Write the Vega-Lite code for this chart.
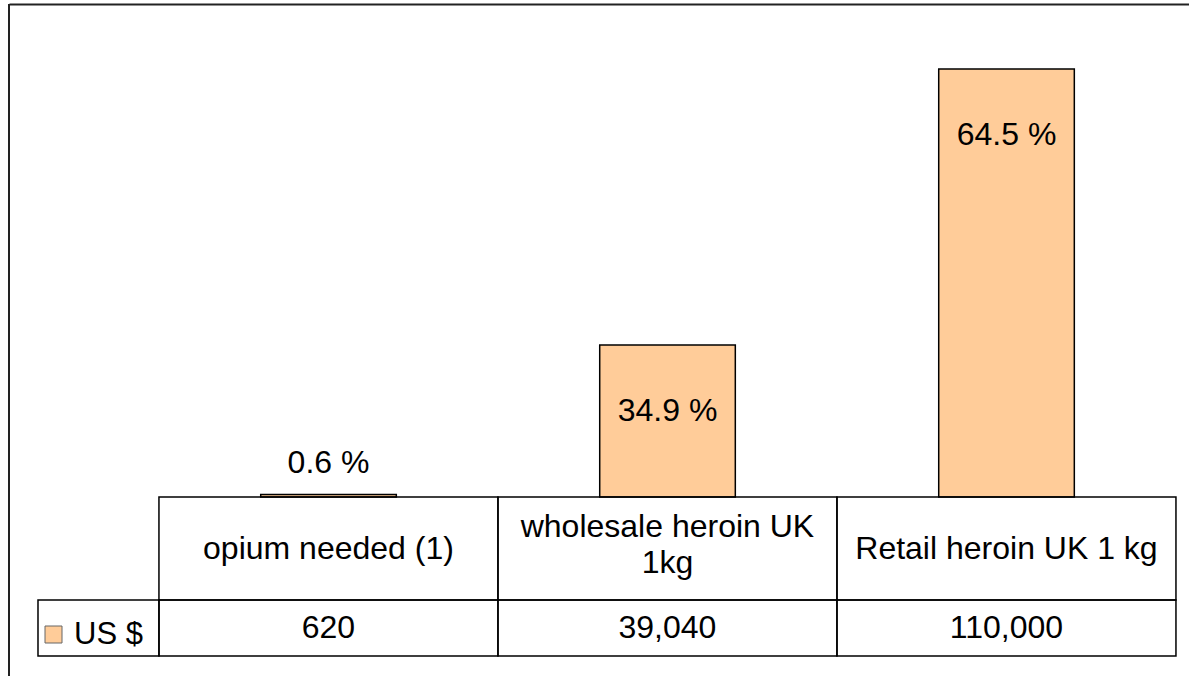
{
  "$schema": "https://vega.github.io/schema/vega-lite/v6.json",
  "padding": {"left": 8, "top": 4, "right": 0, "bottom": 0},
  "background": "white",
  "spacing": 0,
  "bounds": "flush",
  "config": {
    "view": {"stroke": null},
    "font": "Liberation Sans",
    "text": {"font": "Liberation Sans", "fontSize": 32, "color": "#000"}
  },
  "datasets": {
    "costs": [
      {"stage": "opium needed (1)", "usd": 620, "share": "0.6 %"},
      {"stage": "wholesale heroin UK\n1kg", "usd": 39040, "share": "34.9 %"},
      {"stage": "Retail heroin UK 1 kg", "usd": 110000, "share": "64.5 %"}
    ],
    "series": [{"series": "US $"}]
  },
  "vconcat": [
    {
      "width": 1180,
      "height": 493,
      "data": {"name": "costs"},
      "encoding": {
        "x": {
          "field": "stage", "type": "nominal", "sort": null,
          "scale": {"type": "band", "paddingInner": 0.6, "paddingOuter": 0.5404, "align": 0.687},
          "axis": {"orient": "top", "title": null, "labels": false, "ticks": false, "grid": false, "domain": true, "domainColor": "#222", "domainWidth": 2}
        },
        "y": {
          "field": "usd", "type": "quantitative",
          "scale": {"domain": [0, 126700], "nice": false, "zero": true},
          "axis": {"title": null, "labels": false, "ticks": false, "grid": false, "domain": true, "domainColor": "#222", "domainWidth": 2, "translate": 0}
        }
      },
      "layer": [
        {"mark": {"type": "bar", "fill": "#FFCC99", "stroke": "#000", "strokeWidth": 1.5}},
        {
          "transform": [{"filter": "datum.usd < 5000"}],
          "mark": {"type": "text", "baseline": "alphabetic", "dy": -22},
          "encoding": {"text": {"field": "share", "type": "nominal"}}
        },
        {
          "transform": [{"filter": "datum.usd >= 5000"}],
          "mark": {"type": "text", "baseline": "middle", "dy": 66},
          "encoding": {"text": {"field": "share", "type": "nominal"}}
        }
      ]
    },
    {
      "width": 1180,
      "height": 103,
      "resolve": {"scale": {"x": "independent"}},
      "layer": [
        {
          "data": {"name": "costs"},
          "mark": {"type": "rect", "fill": "transparent", "stroke": "#000", "strokeWidth": 1.5},
          "encoding": {
            "x": {"field": "stage", "type": "nominal", "sort": null, "scale": {"type": "band", "paddingInner": 0, "paddingOuter": 0.2404, "align": 0.92}, "axis": null}
          }
        },
        {
          "data": {"name": "costs"},
          "transform": [{"filter": "indexof(datum.stage, '\\n') < 0"}],
          "mark": {"type": "text", "baseline": "middle"},
          "encoding": {
            "x": {"field": "stage", "type": "nominal", "sort": null, "scale": {"type": "band", "domain": ["opium needed (1)", "wholesale heroin UK\n1kg", "Retail heroin UK 1 kg"], "paddingInner": 0, "paddingOuter": 0.2404, "align": 0.92}, "axis": null},
            "text": {"field": "stage", "type": "nominal"}
          }
        },
        {
          "data": {"name": "costs"},
          "transform": [{"filter": "indexof(datum.stage, '\\n') >= 0"}],
          "mark": {"type": "text", "baseline": "middle", "lineBreak": "\n", "lineHeight": 36, "dy": -22},
          "encoding": {
            "x": {"field": "stage", "type": "nominal", "sort": null, "scale": {"type": "band", "domain": ["opium needed (1)", "wholesale heroin UK\n1kg", "Retail heroin UK 1 kg"], "paddingInner": 0, "paddingOuter": 0.2404, "align": 0.92}, "axis": null},
            "text": {"field": "stage", "type": "nominal"}
          }
        },
        {
          "data": {"name": "series"},
          "mark": {"type": "rule", "color": "#222", "strokeWidth": 2},
          "encoding": {
            "x": {"datum": 0, "type": "quantitative", "scale": {"domain": [0, 1]}, "axis": null}
          }
        }
      ]
    },
    {
      "width": 1180,
      "height": 56,
      "resolve": {"scale": {"x": "independent"}},
      "layer": [
        {
          "data": {"name": "costs"},
          "mark": {"type": "rect", "fill": "transparent", "stroke": "#000", "strokeWidth": 1.5},
          "encoding": {
            "x": {"field": "stage", "type": "nominal", "sort": null, "scale": {"type": "band", "paddingInner": 0, "paddingOuter": 0.2404, "align": 0.92}, "axis": null}
          }
        },
        {
          "data": {"name": "costs"},
          "mark": {"type": "text", "baseline": "middle"},
          "encoding": {
            "x": {"field": "stage", "type": "nominal", "sort": null, "scale": {"type": "band", "paddingInner": 0, "paddingOuter": 0.2404, "align": 0.92}, "axis": null},
            "text": {"field": "usd", "type": "quantitative", "format": ","}
          }
        },
        {
          "data": {"name": "series"},
          "mark": {"type": "rect", "fill": "transparent", "stroke": "#000", "strokeWidth": 1.5},
          "encoding": {
            "x": {"field": "series", "type": "nominal", "scale": {"type": "band", "paddingInner": 0.7715, "paddingOuter": 1, "align": 0.02738}, "axis": null}
          }
        },
        {
          "data": {"name": "series"},
          "mark": {"type": "rule", "color": "#222", "strokeWidth": 2},
          "encoding": {
            "x": {"datum": 0, "type": "quantitative", "scale": {"domain": [0, 1]}, "axis": null}
          }
        },
        {
          "data": {"name": "series"},
          "transform": [{"filter": "datum.series == 'none'"}],
          "mark": {"type": "square", "stroke": "#666", "strokeWidth": 1},
          "encoding": {
            "color": {
              "datum": "US $", "type": "nominal",
              "scale": {"range": ["#FFCC99"]},
              "legend": {
                "orient": "none", "legendX": 29, "legendY": 615, "title": null,
                "padding": 0, "symbolType": "square", "symbolSize": 289,
                "symbolStrokeColor": "#666", "symbolStrokeWidth": 1, "symbolOpacity": 1,
                "labelFont": "Liberation Sans", "labelFontSize": 31, "labelColor": "#000",
                "labelOffset": 5
              }
            }
          }
        }
      ]
    },
    {
      "width": 1180,
      "height": 20,
      "data": {"name": "series"},
      "mark": {"type": "rule", "color": "#222", "strokeWidth": 2},
      "encoding": {
        "x": {"datum": 0, "type": "quantitative", "scale": {"domain": [0, 1]}, "axis": null}
      }
    }
  ]
}
